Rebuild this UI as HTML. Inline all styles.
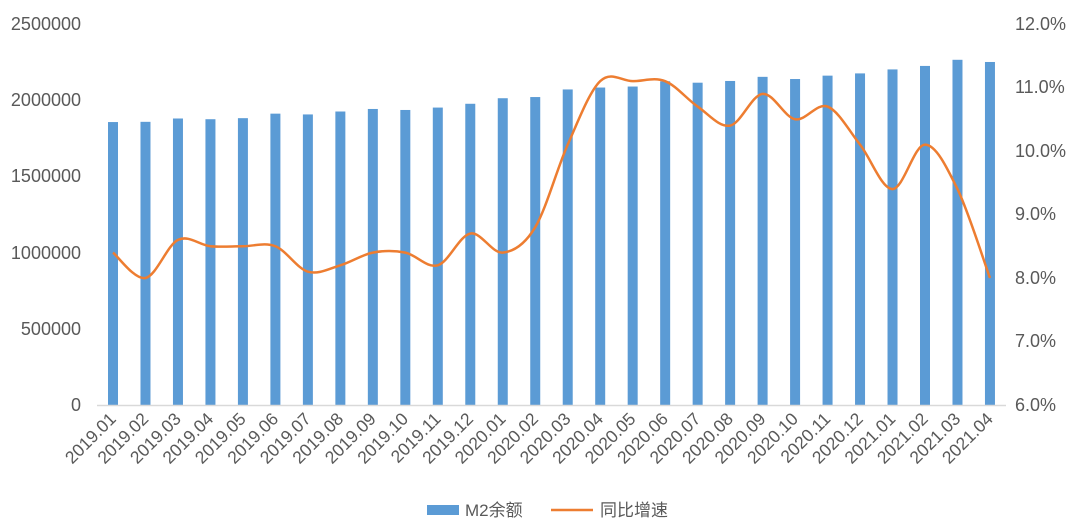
<!DOCTYPE html>
<html><head><meta charset="utf-8"><style>
html,body{margin:0;padding:0;background:#fff;}
svg{display:block;font-family:"Liberation Sans","Noto Sans CJK SC",sans-serif;}
</style></head><body>
<svg id="c" width="1080" height="526" viewBox="0 0 1080 526" xmlns="http://www.w3.org/2000/svg">
<g id="bars"></g>
<line x1="97" y1="405.5" x2="1006" y2="405.5" stroke="#d9d9d9" stroke-width="1.5"/>
<path id="ln" fill="none" stroke="#ed7d31" stroke-width="2.5"/>
<g id="lab" fill="#595959" font-size="17.5"></g>
<g fill="#595959" font-size="18" text-anchor="end">
<text x="81" y="30">2500000</text><text x="81" y="106">2000000</text><text x="81" y="182">1500000</text>
<text x="81" y="259">1000000</text><text x="81" y="335">500000</text><text x="81" y="411">0</text>
</g>
<g fill="#595959" font-size="18" text-anchor="start">
<text x="1015" y="30">12.0%</text><text x="1015" y="93">11.0%</text><text x="1015" y="157">10.0%</text>
<text x="1015" y="220">9.0%</text><text x="1015" y="284">8.0%</text><text x="1015" y="347">7.0%</text><text x="1015" y="411">6.0%</text>
</g>
<rect x="427" y="505" width="32" height="10" fill="#5b9bd5"/>
<text x="465" y="516" fill="#595959" font-size="17">M2余额</text>
<line x1="551" y1="510" x2="593" y2="510" stroke="#ed7d31" stroke-width="2.5"/>
<text x="600" y="516" fill="#595959" font-size="17">同比增速</text>
</svg>
<script>
var v=[1865935,1867427,1889412,1884670,1891544,1921360,1916179,1935492,1952250,1945600,1961429,1986489,2023066,2030830,2080923,2093533,2100184,2134949,2125458,2136837,2164084,2149720,2172002,2186796,2213047,2236030,2276488,2262100];
var g=[8.4,8.0,8.6,8.5,8.5,8.5,8.1,8.2,8.4,8.4,8.2,8.7,8.4,8.8,10.1,11.1,11.1,11.1,10.7,10.4,10.9,10.5,10.7,10.1,9.4,10.1,9.4,8.0];
var ns="http://www.w3.org/2000/svg",b=document.getElementById('bars'),l=document.getElementById('lab');
var pts=[];
for(var i=0;i<28;i++){
 var x=113+i*32.48;
 var h=v[i]*0.995/2500000*381;
 var r=document.createElementNS(ns,'rect');
 r.setAttribute('x',x-5);r.setAttribute('y',405-h);r.setAttribute('width',10);r.setAttribute('height',h);r.setAttribute('fill','#5b9bd5');b.appendChild(r);
 pts.push([x,405-(g[i]-6)*63.5]);
 var y=2019+Math.floor(i/12),m=i%12+1;
 var t=document.createElementNS(ns,'text');
 t.setAttribute('text-anchor','end');
 t.setAttribute('transform','translate('+(x+4)+',420) rotate(-45)');
 t.textContent=y+'.'+(m<10?'0'+m:m);l.appendChild(t);
}
var d='M'+pts[0][0]+','+pts[0][1];
for(var i=0;i<27;i++){
 var p0=pts[Math.max(0,i-1)],p1=pts[i],p2=pts[i+1],p3=pts[Math.min(27,i+2)];
 var c1x=p1[0]+(p2[0]-p0[0])/6,c1y=p1[1]+(p2[1]-p0[1])/6;
 var c2x=p2[0]-(p3[0]-p1[0])/6,c2y=p2[1]-(p3[1]-p1[1])/6;
 d+=' C'+c1x+','+c1y+' '+c2x+','+c2y+' '+p2[0]+','+p2[1];
}
document.getElementById('ln').setAttribute('d',d);
</script>
</body></html>
